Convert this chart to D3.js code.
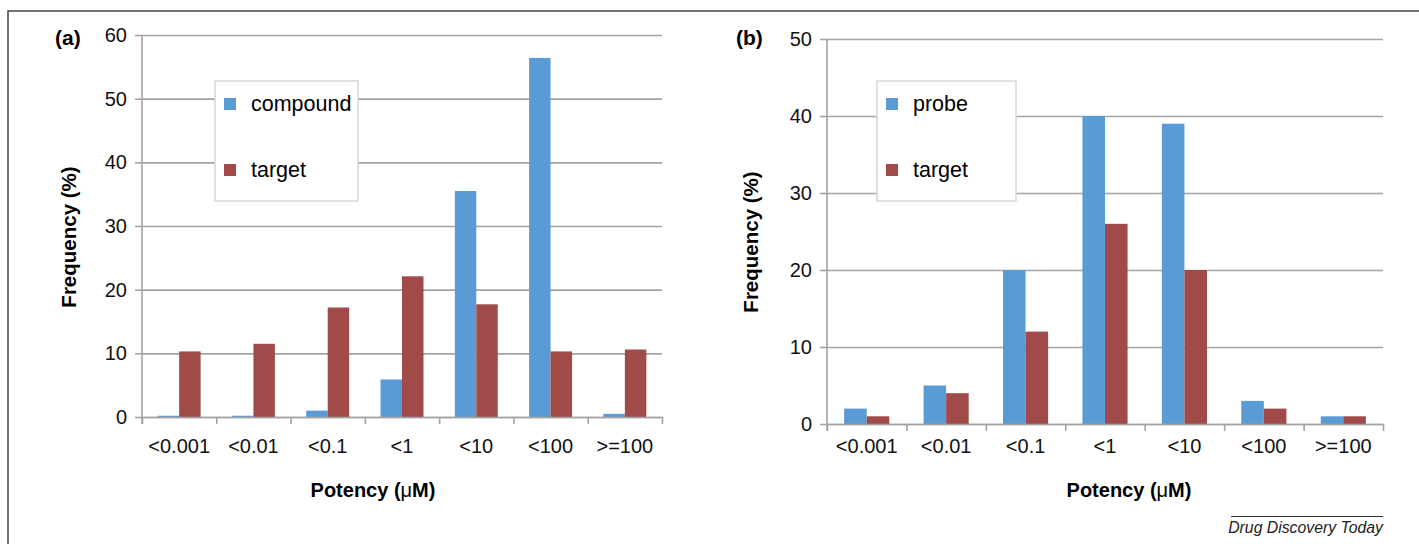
<!DOCTYPE html>
<html>
<head>
<meta charset="utf-8">
<script src="https://d3js.org/d3.v7.min.js"></script>
<style>
  body { margin: 0; background: #fff; }
  svg { display: block; font-family: "Liberation Sans", Arial, sans-serif; }
  .tick text { fill: #111; }
</style>
</head>
<body>
<div id="graph"></div>
<script>
    // data
    const categories = ["<0.001", "<0.01", "<0.1", "<1", "<10", "<100", ">=100"]
    const compoundA = [0.2, 0.2, 1.0, 5.9, 35.5, 56.4, 0.5]
    const targetA = [10.3, 11.5, 17.2, 22.1, 17.7, 10.3, 10.6]
    const probeB = [2, 5, 20, 40, 39, 3, 1]
    const targetB = [1, 4, 12, 26, 20, 2, 1]
    const yTicksA = [0, 10, 20, 30, 40, 50, 60]
    const yTicksB = [0, 10, 20, 30, 40, 50]

    const blue = '#5b9bd5'
    const red = '#a04b49'
    const grey = '#a3a3a3'

    const svg = d3.select('#graph').append('svg')
        .attr('width', 1419)
        .attr('height', 544)

    // outer frame (runs off the right and bottom edges)
    svg.append('path')
        .attr('d', 'M8,544 L8,11 L1419,11')
        .attr('fill', 'none')
        .attr('stroke', '#444')
        .attr('stroke-width', 1.5)

    let drawPanel = (p) => {
        const w = p.right - p.left
        const h = p.bottom - p.top
        const chart = svg.append('g')
            .attr('transform', `translate(${p.left}, ${p.top})`)

        const yScale = d3.scaleLinear()
            .range([h, 0])
            .domain([0, d3.max(p.yTicks)])

        const xScale = d3.scaleBand()
            .range([0, w])
            .domain(categories)
            .padding(0)

        const series = [p.names[0], p.names[1]]
        const xSub = d3.scaleBand()
            .domain(series)
            .range([0, xScale.bandwidth()])
            .paddingInner(0)
            .paddingOuter(p.outer)

        // gridlines
        const grid = chart.append('g')
            .call(d3.axisLeft(yScale).tickValues(p.yTicks).tickSize(-w).tickFormat(''))
        grid.select('.domain').remove()
        grid.selectAll('line').attr('stroke', grey).attr('stroke-width', 1.6)

        // bars
        const rows = categories.map((c, i) => ({ cat: c, a: p.values[0][i], b: p.values[1][i] }))
        const groups = chart.selectAll('.grp')
            .data(rows)
            .enter()
            .append('g')
            .attr('transform', d => `translate(${xScale(d.cat)}, 0)`)
        groups.selectAll('rect')
            .data(d => [{ k: series[0], v: d.a }, { k: series[1], v: d.b }])
            .enter()
            .append('rect')
            .attr('x', d => xSub(d.k))
            .attr('y', d => yScale(d.v))
            .attr('width', xSub.bandwidth())
            .attr('height', d => h - yScale(d.v))
            .attr('fill', (d, i) => i === 0 ? blue : red)

        // y axis
        const yAxis = chart.append('g')
            .call(d3.axisLeft(yScale).tickValues(p.yTicks).tickSizeInner(7).tickSizeOuter(0).tickPadding(8))
        yAxis.selectAll('line').attr('stroke', grey).attr('stroke-width', 1.6)
        yAxis.select('.domain').remove()
        yAxis.selectAll('text').style('font-size', '20px')

        // x axis: boundary ticks + category labels
        const bScale = d3.scaleLinear().domain([0, categories.length]).range([0, w])
        const xTicks = chart.append('g')
            .attr('transform', `translate(0, ${h})`)
            .call(d3.axisBottom(bScale).ticks(categories.length).tickSizeInner(7).tickSizeOuter(0).tickFormat(''))
        xTicks.selectAll('line').attr('stroke', grey).attr('stroke-width', 1.6)
        xTicks.select('.domain').attr('stroke', grey).attr('stroke-width', 1.6)

        chart.append('line')
            .attr('x1', 0).attr('x2', 0)
            .attr('y1', 0).attr('y2', h + 7)
            .attr('stroke', grey).attr('stroke-width', 1.6)

        const xAxis = chart.append('g')
            .attr('transform', `translate(0, ${h})`)
            .call(d3.axisBottom(xScale).tickSize(0).tickPadding(p.xPad))
        xAxis.select('.domain').remove()
        xAxis.selectAll('text').style('font-size', '20px')

        // titles
        const xt = svg.append('text')
            .attr('x', p.xTitleX).attr('y', 497)
            .attr('text-anchor', 'middle')
            .style('font-size', '20px').style('font-weight', 'bold')
        xt.append('tspan').text('Potency (')
        xt.append('tspan').style('font-weight', 'normal').text('μ')
        xt.append('tspan').text('M)')

        svg.append('text')
            .attr('transform', `translate(${p.yTitleX}, ${p.yTitleY}) rotate(-90)`)
            .attr('text-anchor', 'middle')
            .style('font-size', '20.5px').style('font-weight', 'bold')
            .text('Frequency (%)')

        svg.append('text')
            .attr('x', p.labelX).attr('y', 45)
            .style('font-size', '21px').style('font-weight', 'bold')
            .text(p.label)

        // legend
        const lg = svg.append('g').attr('transform', `translate(${p.legend[0]}, 81)`)
        lg.append('rect')
            .attr('width', p.legend[1]).attr('height', 120)
            .attr('fill', '#fff').attr('stroke', '#d8d8d8').attr('stroke-width', 1.5)
        series.forEach((s, i) => {
            lg.append('rect')
                .attr('x', 9).attr('y', 17 + i * 66)
                .attr('width', 12).attr('height', 12)
                .attr('fill', i === 0 ? blue : red)
            lg.append('text')
                .attr('x', 36).attr('y', 30 + i * 66)
                .style('font-size', '21.5px')
                .text(s)
        })
    }

    drawPanel({
        left: 142, right: 662, top: 35, bottom: 417,
        yTicks: yTicksA, names: ['compound', 'target'], values: [compoundA, targetA],
        outer: 0.73, xPad: 22, xTitleX: 373, yTitleX: 76, yTitleY: 237,
        label: '(a)', labelX: 55, legend: [215, 143]
    })

    drawPanel({
        left: 827, right: 1383, top: 39, bottom: 424,
        yTicks: yTicksB, names: ['probe', 'target'], values: [probeB, targetB],
        outer: 0.76, xPad: 15, xTitleX: 1129, yTitleX: 758, yTitleY: 242,
        label: '(b)', labelX: 736, legend: [877, 139]
    })

    // journal credit
    svg.append('line')
        .attr('x1', 1231).attr('x2', 1383)
        .attr('y1', 516.5).attr('y2', 516.5)
        .attr('stroke', '#333').attr('stroke-width', 1)
    svg.append('text')
        .attr('x', 1383).attr('y', 533)
        .attr('text-anchor', 'end')
        .style('font-size', '15.8px').style('font-style', 'italic')
        .style('fill', '#222')
        .text('Drug Discovery Today')
</script>
</body>
</html>
